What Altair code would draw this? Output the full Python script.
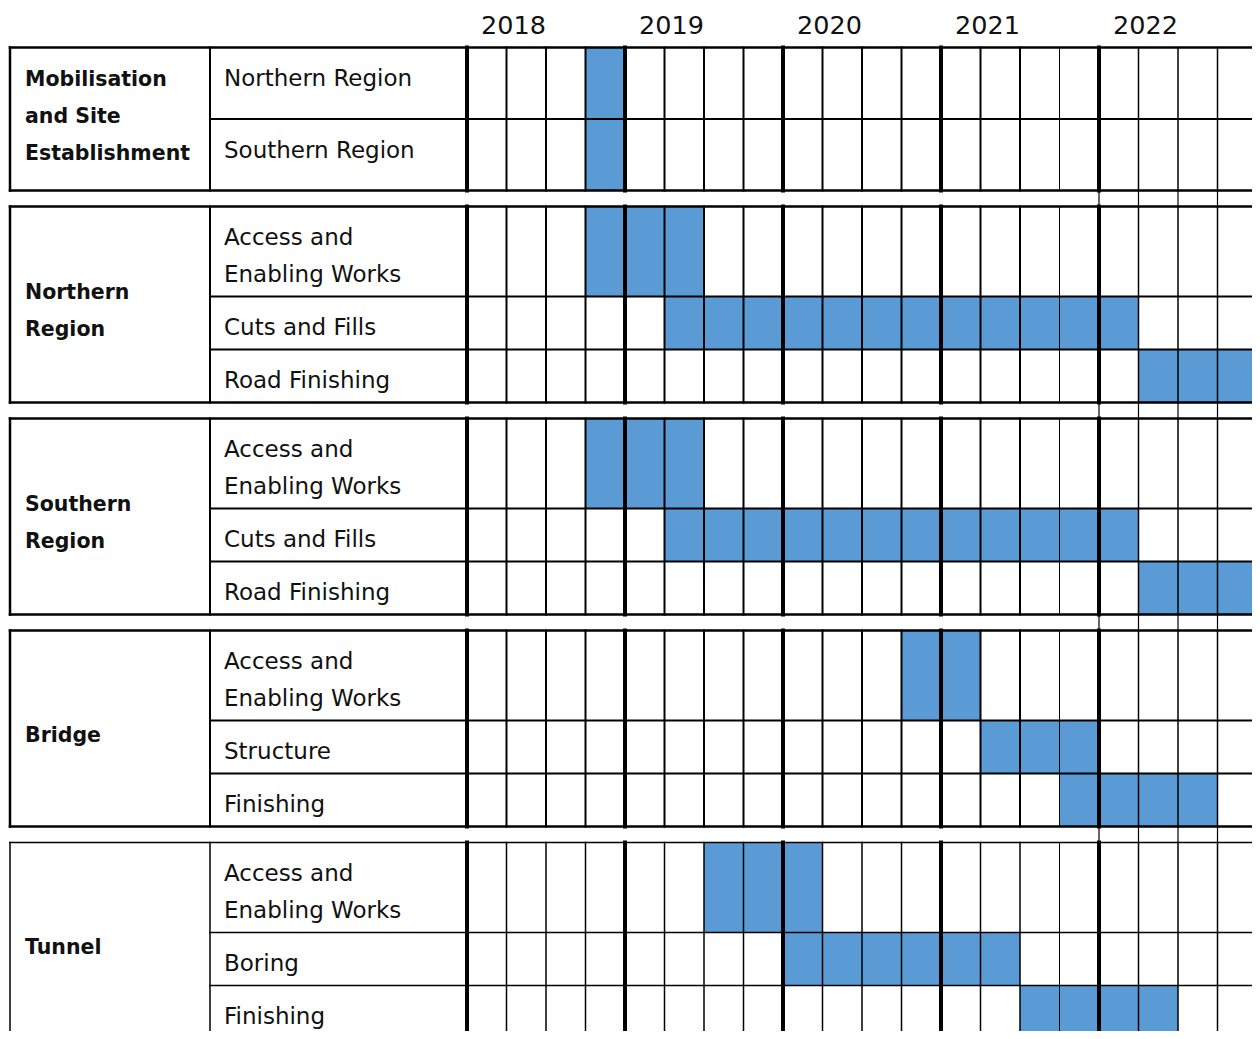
import altair as alt
import pandas as pd

# ---------------- data ----------------
years = [2018, 2019, 2020, 2021, 2022]
quarters_per_year = 4

groups = [
    "Mobilisation\nand Site\nEstablishment",
    "Northern\nRegion",
    "Southern\nRegion",
    "Bridge",
    "Tunnel",
]
group_tasks = [
    ["Northern Region", "Southern Region"],
    ["Access and\nEnabling Works", "Cuts and Fills", "Road Finishing"],
    ["Access and\nEnabling Works", "Cuts and Fills", "Road Finishing"],
    ["Access and\nEnabling Works", "Structure", "Finishing"],
    ["Access and\nEnabling Works", "Boring", "Finishing"],
]
task_start = [
    ["2018 Q4", "2018 Q4"],
    ["2018 Q4", "2019 Q2", "2022 Q2"],
    ["2018 Q4", "2019 Q2", "2022 Q2"],
    ["2020 Q4", "2021 Q2", "2021 Q4"],
    ["2019 Q3", "2020 Q1", "2021 Q3"],
]
task_end = [
    ["2018 Q4", "2018 Q4"],
    ["2019 Q2", "2022 Q1", "2022 Q4"],
    ["2019 Q2", "2022 Q1", "2022 Q4"],
    ["2021 Q1", "2021 Q4", "2022 Q3"],
    ["2020 Q1", "2021 Q2", "2022 Q2"],
]

# ---------------- layout ----------------
W, H = 1244, 1023
COL_W = 39.5          # px per quarter column
TASK_W = 257          # task-label column width (px)
GROUP_W = 200         # group-label column width (px)
LEFT = 2
HEADER = 39.5
GAP = 16
LINE_H = 37
ROW_PAD = 16
TEXT_TOP = 38.5
GROUP_OFF = 13
LABEL_PAD = 14
BLUE = "#5B9BD5"
FONT = "DejaVu Sans"

n_q = len(years) * quarters_per_year
XT = -TASK_W / COL_W
XG = -(TASK_W + GROUP_W) / COL_W
x_min = XG - LEFT / COL_W
x_max = x_min + W / COL_W


def qidx(s):
    y, q = s.split(" Q")
    return (int(y) - years[0]) * quarters_per_year + int(q) - 1


layout = []
y = HEADER
for gi, g in enumerate(groups):
    heights = [(t.count("\n") + 1) * LINE_H + ROW_PAD for t in group_tasks[gi]]
    g_min = (g.count("\n") + 1) * LINE_H + 32
    tot = sum(heights)
    label_sized = tot < g_min
    if label_sized:
        extra = (g_min - tot) / len(heights)
        heights = [h + extra for h in heights]
    tops = []
    yy = y
    for h in heights:
        tops.append(yy)
        yy += h
    layout.append(dict(top=y, bottom=yy, tops=tops, heights=heights,
                       label_sized=label_sized))
    y = yy + GAP

# bars
bars = []
for gi, g in enumerate(layout):
    for ti, t in enumerate(g["tops"]):
        bars.append(dict(
            x=qidx(task_start[gi][ti]), x2=qidx(task_end[gi][ti]) + 1,
            y=t, y2=t + g["heights"][ti]))
bars = pd.DataFrame(bars)

# grid lines
rules = []


def add(x, x2, y1, y2, w):
    rules.append(dict(x=x, x2=x2, y=y1, y2=y2, w=w))


prev_bottom = None
for gi, g in enumerate(layout):
    T, B = g["top"], g["bottom"]
    light = gi == len(layout) - 1
    base = 1.5 if light else 2
    edge = 1.5 if light else 2.5
    add(XG, n_q, T, T, edge)
    add(XG, n_q, B, B, edge)
    for rt in g["tops"][1:]:
        add(XT, n_q, rt, rt, base)
    add(XG, XG, T, B, edge)
    add(XT, XT, T, B, base)
    for q in range(n_q + 1):
        if q == n_q:
            w = 3
        elif q % 4 == 0:
            w = 4
        elif q == n_q - 5:
            w = 1
        elif q > n_q - 4:
            w = 1.5
        else:
            w = base
        add(q, q, T, B, w)
    if prev_bottom is not None:
        for q in range(n_q - 4, n_q + 1):
            add(q, q, prev_bottom, T, 1.2)
    prev_bottom = B
rules = pd.DataFrame(rules)

# labels
year_df = pd.DataFrame(dict(x=[i * quarters_per_year for i in range(len(years))],
                            y=[26] * len(years),
                            t=[str(v) for v in years]))
group_rows = []
for gi, g in enumerate(layout):
    n_lines = groups[gi].count("\n") + 1
    if g["label_sized"]:
        gy = g["top"] + TEXT_TOP
    else:
        gy = (g["top"] + g["bottom"]) / 2 - (n_lines - 1) * LINE_H / 2 + GROUP_OFF
    group_rows.append(dict(x=XG, y=gy, t=groups[gi]))
group_df = pd.DataFrame(group_rows)
task_df = pd.DataFrame([
    dict(x=XT, y=t + TEXT_TOP, t=group_tasks[gi][ti])
    for gi, g in enumerate(layout) for ti, t in enumerate(g["tops"])])

xs = alt.Scale(domain=[x_min, x_max], nice=False, zero=False)
ys = alt.Scale(domain=[0, H], nice=False, zero=False, reverse=True)

bar_layer = alt.Chart(bars).mark_rect(color=BLUE, stroke=None).encode(
    x=alt.X("x:Q", scale=xs, axis=None), x2="x2:Q",
    y=alt.Y("y:Q", scale=ys, axis=None), y2="y2:Q")

rule_layer = alt.Chart(rules).mark_rule(color="black", strokeCap="square").encode(
    x=alt.X("x:Q", scale=xs, axis=None), x2="x2:Q",
    y=alt.Y("y:Q", scale=ys, axis=None), y2="y2:Q",
    strokeWidth=alt.StrokeWidth("w:Q", scale=None))

year_layer = alt.Chart(year_df).mark_text(
    align="left", baseline="alphabetic", dx=LABEL_PAD, font=FONT, fontSize=25.5,
    color="#111111").encode(
    x=alt.X("x:Q", scale=xs, axis=None), y=alt.Y("y:Q", scale=ys, axis=None), text="t:N")

group_layer = alt.Chart(group_df).mark_text(
    align="left", baseline="alphabetic", dx=LABEL_PAD + 1, font=FONT, fontSize=20.5,
    fontWeight="bold", lineBreak="\n", lineHeight=LINE_H, color="#111111").encode(
    x=alt.X("x:Q", scale=xs, axis=None), y=alt.Y("y:Q", scale=ys, axis=None), text="t:N")

task_layer = alt.Chart(task_df).mark_text(
    align="left", baseline="alphabetic", dx=LABEL_PAD, font=FONT, fontSize=23,
    lineBreak="\n", lineHeight=LINE_H, color="#111111").encode(
    x=alt.X("x:Q", scale=xs, axis=None), y=alt.Y("y:Q", scale=ys, axis=None), text="t:N")

chart = alt.layer(bar_layer, rule_layer, year_layer, group_layer, task_layer).properties(
    width=W, height=H, padding=0, autosize=alt.AutoSizeParams(type="none"),
    background="white",
).configure_view(stroke=None)

chart.save("out.html", embed_options={"renderer": "svg", "actions": False})
